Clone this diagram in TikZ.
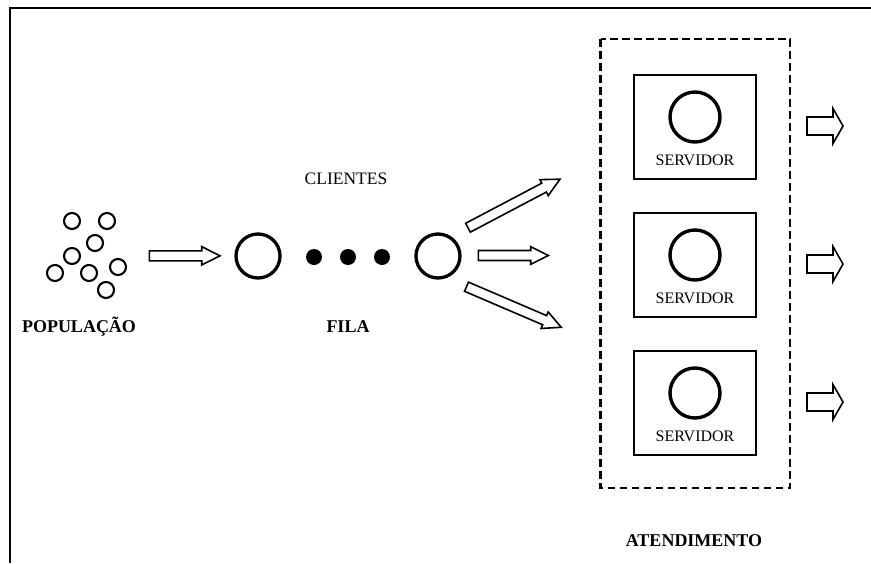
\documentclass[tikz,border=0pt]{standalone}
\usepackage{fontspec}
\setmainfont{Liberation Serif}
\begin{document}
\begin{tikzpicture}[x=1pt,y=-1pt,
  frameline/.style={line width=2.2pt},
  popcirc/.style={circle,draw,line width=2.1pt,minimum size=16pt,inner sep=0pt},
  bigcirc/.style={circle,draw,line width=3.3pt,minimum size=44pt,inner sep=0pt},
  dotnode/.style={circle,fill=black,minimum size=16pt,inner sep=0pt},
  srvbox/.style={draw,line width=1.8pt,minimum width=122pt,minimum height=104pt,inner sep=0pt},
  srvcirc/.style={circle,draw,line width=3.4pt,minimum size=50pt,inner sep=0pt},
  dashbox/.style={draw,line width=2.2pt,dash pattern=on 7.5pt off 4.5pt},
  arrowline/.style={draw,line width=1.6pt,line join=miter,fill=white},
  lbl/.style={font=\fontsize{17.5}{19}\selectfont,anchor=base,inner sep=0pt},
  srvlbl/.style={font=\fontsize{16}{18}\selectfont,anchor=base,inner sep=0pt},
  boldlbl/.style={font=\bfseries\fontsize{18}{20}\selectfont,anchor=base,inner sep=0pt}]
\newcommand{\blkarrow}[6]{%
  \path[arrowline,shift={#1},rotate=#2] (0,-#4) -- ({#3-#6},-#4) -- ({#3-#6},-#5) -- (#3,0) -- ({#3-#6},#5) -- ({#3-#6},#4) -- (0,#4) -- cycle;}
\useasboundingbox (0,0) rectangle (871,563);
% frame
\draw[frameline] (10.3,563) -- (10.3,7.8) -- (871,7.8);
% population
\node[popcirc] (p1) at (72,221) {};
\node[popcirc] (p2) at (107,221) {};
\node[popcirc] (p3) at (95,243) {};
\node[popcirc] (p4) at (72,256) {};
\node[popcirc] (p5) at (55,273) {};
\node[popcirc] (p6) at (89,273) {};
\node[popcirc] (p7) at (118,267) {};
\node[popcirc] (p8) at (106,290) {};
\node[boldlbl] (pop) at (79,332) {POPULAÇÃO};
% arrow population -> queue
\blkarrow{(149.3,255.8)}{0}{70.7}{5}{9.2}{18.3}
% queue
\node[bigcirc] (c1) at (258,256) {};
\node[dotnode] (d1) at (314,257) {};
\node[dotnode] (d2) at (348,257) {};
\node[dotnode] (d3) at (382,257) {};
\node[bigcirc] (c2) at (438,256) {};
\node[lbl] (cli) at (346,184.3) {CLIENTES};
\node[boldlbl] (fila) at (348,332) {FILA};
% diverging arrows
\blkarrow{(468,227.7)}{27.8}{104}{5}{9}{18}
\blkarrow{(478.3,255.5)}{0}{70}{5}{8.8}{17.6}
\blkarrow{(466.5,286.7)}{-23.2}{103}{5}{9}{18}
% service area
\draw[dashbox] (600.5,39) rectangle (790,488);
\foreach \i/\y in {1/74,2/212,3/350}{
  \node[srvbox,anchor=north] (s\i) at (695,\y) {};
  \node[srvcirc] (sc\i) at (695,\y+43) {};
  \node[srvlbl] (sl\i) at (695,\y+91) {SERVIDOR};
  \blkarrow{(807,\y+52)}{0}{36}{9}{17.5}{10}
}
\node[boldlbl] (aten) at (694,546.7) {ATENDIMENTO};
\end{tikzpicture}
\end{document}
